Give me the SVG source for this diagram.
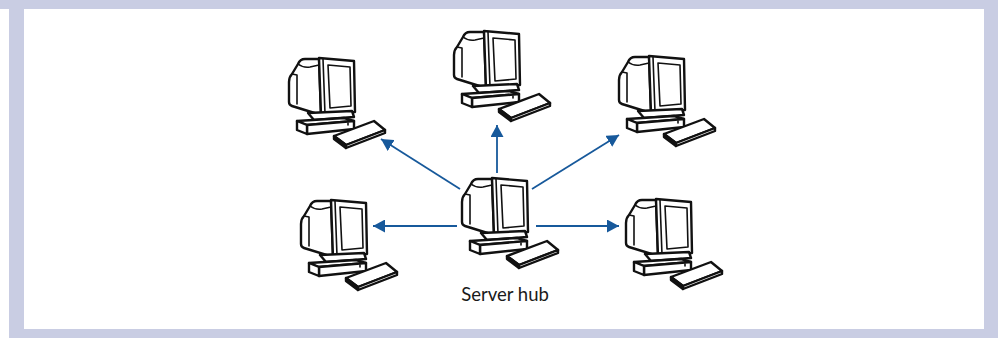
<svg xmlns="http://www.w3.org/2000/svg" xmlns:xlink="http://www.w3.org/1999/xlink" width="998" height="338" viewBox="0 0 998 338">
  <style>
    .frame { fill: #c9cde3; }
    .panel { fill: #ffffff; }
    .pc { fill: #ffffff; stroke: #111111; stroke-width: 2.4; stroke-linejoin: round; stroke-linecap: round; }
    .pc-thin { fill: none; stroke: #111111; stroke-width: 1.6; stroke-linejoin: round; stroke-linecap: round; }
    .link { stroke: #17599b; stroke-width: 1.8; fill: none; marker-end: url(#head); }
    .label { font-family: Lato, "Open Sans", "Liberation Sans", sans-serif; font-size: 18.5px; fill: #1a1a1a; }
  </style>
  <defs>
    <marker id="head" markerUnits="userSpaceOnUse" markerWidth="13" markerHeight="13" refX="12" refY="6.5" orient="auto">
      <path d="M0,0 L12,6.5 L0,13 Z" fill="#17599b"/>
    </marker>
    <!-- desktop computer: monitor, stand, system box and keyboard -->
    <g id="computer">
      <!-- monitor housing -->
      <path class="pc" d="M31,2 L17,2 Q12,2 10,7 L4,17 Q1,20 1,25 L1,45 Q1,48 4,49 L33,58 Z"/>
      <path class="pc-thin" d="M10,7 Q15,11 22,10 L31,8 M4,17 L9,18 L9,47"/>
      <!-- front bezel -->
      <path class="pc" d="M31,1 L66,4 L67,55 L33,58 Z"/>
      <path class="pc-thin" d="M35,2 L37,57"/>
      <!-- screen -->
      <path class="pc-thin" d="M40,8 L62,10 L63,49 L42,51 Z"/>
      <!-- stand -->
      <path class="pc" d="M20,56 L64,54 L66,60 L26,63 Z"/>
      <!-- system box -->
      <path class="pc" d="M9,64 L56,61 L66,64 L19,68 Z"/>
      <path class="pc" d="M19,68 L66,64 L66,72 L19,77 Z"/>
      <path class="pc" d="M9,64 L19,68 L19,77 L9,73 Z"/>
      <path class="pc-thin" d="M60,66 L60,68"/>
      <!-- keyboard -->
      <path class="pc" d="M46,79 L86,64 L97,73 L58,88 Z"/>
      <path class="pc" d="M46,79 L58,88 L58,91 L46,82 Z"/>
      <path class="pc" d="M58,88 L97,73 L97,76 L58,91 Z"/>
    </g>
  </defs>

  <!-- frame and panel -->
  <rect class="frame" x="0" y="0" width="998" height="338"/>
  <rect class="panel" x="0" y="9" width="9" height="329"/>
  <rect class="panel" x="24" y="9" width="960" height="320"/>

  <!-- connectors from the server hub -->
  <g id="connectors">
    <line class="link" x1="497" y1="173" x2="497" y2="125"/>
    <line class="link" x1="460" y1="189" x2="381" y2="139"/>
    <line class="link" x1="532" y1="189" x2="619" y2="135"/>
    <line class="link" x1="457" y1="226" x2="373" y2="226"/>
    <line class="link" x1="536" y1="226" x2="619" y2="226"/>
  </g>

  <g id="pc-top-left"><use xlink:href="#computer" x="288" y="57"/></g>
  <g id="pc-top-center"><use xlink:href="#computer" x="453" y="30"/></g>
  <g id="pc-top-right"><use xlink:href="#computer" x="618" y="55"/></g>
  <g id="pc-bottom-left"><use xlink:href="#computer" x="300" y="199"/></g>
  <g id="pc-bottom-right"><use xlink:href="#computer" x="625" y="198"/></g>
  <g id="server-hub">
    <use xlink:href="#computer" x="461" y="177"/>
    <text class="label" x="505" y="301" text-anchor="middle">Server hub</text>
  </g>
</svg>
